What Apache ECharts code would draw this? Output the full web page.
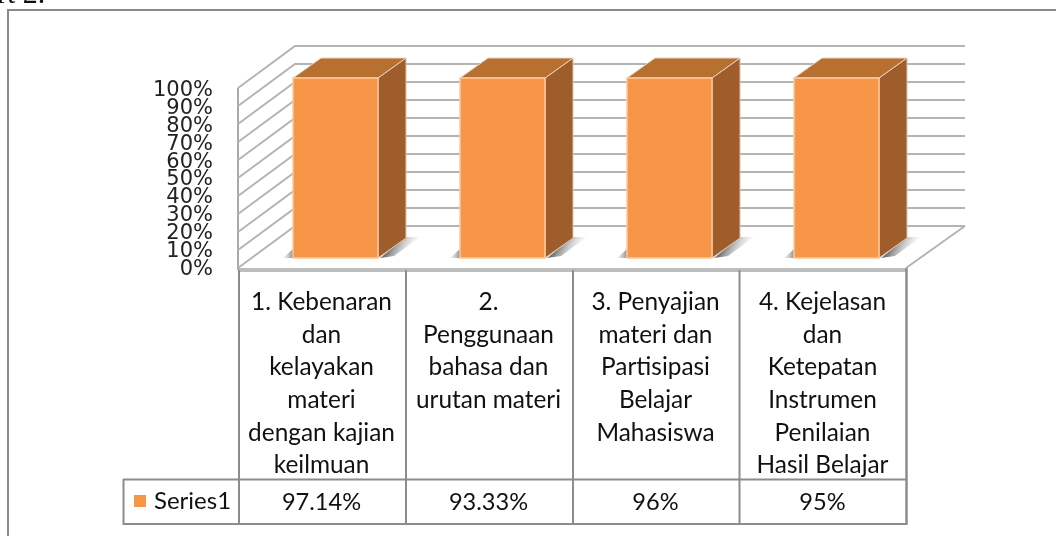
<!DOCTYPE html>
<html>
<head>
<meta charset="utf-8">
<style>
  html, body { margin: 0; padding: 0; background: #fff; }
  #chart { width: 1056px; height: 536px; }
</style>
</head>
<body>
<div id="chart"></div>
<script src="https://cdn.jsdelivr.net/npm/echarts@6/dist/echarts.min.js"></script>
<script>
  const categories = [
    '1. Kebenaran\ndan\nkelayakan\nmateri\ndengan kajian\nkeilmuan',
    '2.\nPenggunaan\nbahasa dan\nurutan materi',
    '3. Penyajian\nmateri dan\nPartisipasi\nBelajar\nMahasiswa',
    '4. Kejelasan\ndan\nKetepatan\nInstrumen\nPenilaian\nHasil Belajar'
  ]
  // one series on a 100% stacked axis, so every bar is drawn full height
  const barShare = [100, 100, 100, 100]
  const tableValues = ['97.14%', '93.33%', '96%', '95%']
  const yTicks = [0, 10, 20, 30, 40, 50, 60, 70, 80, 90, 100]

  const wallDx = 57
  const wallDy = -42
  const barDx = 28
  const barDy = -20
  const barInsetX = 14
  const barInsetY = -10
  const barWidth = 85
  const tickLabelGap = 25
  // the labels sit a touch closer together than the grid lines
  const tickLabelSquash = 0.01

  const gridLine = '#b4b4b4'
  const tableLine = '#8c8c8c'
  const labelFont = 'Lato'

  const renderWall = (params, api) => {
    const cs = params.coordSys
    const tick = api.value(1)
    const y = api.coord([0, tick])[1]
    const backX = cs.x + wallDx
    const backY = y + wallDy
    const children = [
      {
        type: 'polyline',
        shape: { points: [[cs.x, y], [backX, backY], [backX + cs.width + 2, backY]] },
        style: { fill: null, stroke: gridLine, lineWidth: 2 }
      },
      {
        type: 'text',
        x: cs.x - tickLabelGap,
        y: y + 1.5 + tick * tickLabelSquash,
        style: {
          text: tick + '%',
          align: 'right',
          verticalAlign: 'middle',
          fontFamily: 'DejaVu Sans',
          fontSize: 21,
          fill: '#222'
        }
      }
    ]
    if (tick === 0) {
      children.push({
        type: 'line',
        shape: { x1: cs.x + cs.width, y1: y, x2: cs.x + cs.width + wallDx + 2, y2: backY },
        style: { stroke: gridLine, lineWidth: 2 }
      })
      children.push({
        type: 'line',
        shape: { x1: cs.x, y1: cs.y, x2: cs.x, y2: y + 2 },
        style: { stroke: '#aaaaaa', lineWidth: 2 }
      })
    }
    return { type: 'group', children }
  }

  const renderBar = (params, api) => {
    const center = api.coord([api.value(0), 0])
    const top = api.coord([api.value(0), api.value(1)])
    const x0 = center[0] + barInsetX - barWidth / 2
    const x1 = x0 + barWidth
    const yb = center[1] + barInsetY
    const yt = top[1] + barInsetY
    const color = api.visual('color')
    return {
      type: 'group',
      children: [
        {
          type: 'polygon',
          shape: { points: [[x0 - 10, yb], [x0, yb], [x0, yb - 9]] },
          style: {
            fill: {
              type: 'linear',
              x: 0, y: 0, x2: 1, y2: 0,
              colorStops: [
                { offset: 0, color: 'rgba(190,190,190,0.2)' },
                { offset: 1, color: 'rgba(130,130,130,0.9)' }
              ]
            }
          }
        },
        {
          type: 'polygon',
          shape: {
            points: [
              [x1 + 2, yb],
              [x1 + barDx, yb + barDy - 1],
              [x1 + barDx + 14, yb + barDy - 1],
              [x1 + 16, yb - 2]
            ]
          },
          style: {
            fill: {
              type: 'linear',
              x: 0, y: 0, x2: 1, y2: 1,
              colorStops: [
                { offset: 0.3, color: 'rgba(110,110,110,0.95)' },
                { offset: 0.75, color: 'rgba(200,200,200,0.15)' },
                { offset: 1, color: 'rgba(255,255,255,0)' }
              ]
            }
          }
        },
        {
          type: 'polygon',
          shape: { points: [[x1, yb], [x1 + barDx, yb + barDy], [x1 + barDx, yt + barDy], [x1, yt]] },
          style: { fill: '#9e5d2b', stroke: '#d9c4b0', lineWidth: 1 }
        },
        {
          type: 'polygon',
          shape: { points: [[x0, yt], [x1, yt], [x1 + barDx, yt + barDy], [x0 + barDx, yt + barDy]] },
          style: { fill: '#b87031', stroke: '#e8d5c4', lineWidth: 1 }
        },
        {
          type: 'rect',
          shape: { x: x0, y: yt, width: barWidth, height: yb - yt },
          style: { fill: color, stroke: '#fbc9a0', lineWidth: 1.5 }
        }
      ]
    }
  }

  const hLine = (x1, x2, y, color, width) => ({
    type: 'line',
    shape: { x1, y1: y, x2, y2: y },
    style: { stroke: color, lineWidth: width }
  })
  const vLine = (x, y1, y2, color, width) => ({
    type: 'line',
    shape: { x1: x, y1, x2: x, y2 },
    style: { stroke: color, lineWidth: width }
  })

  const chart = echarts.init(document.getElementById('chart'))

  chart.setOption({
    animation: false,
    backgroundColor: '#ffffff',
    grid: { left: 238, top: 88, width: 668, height: 180 },
    legend: {
      data: ['Series1'],
      left: 134,
      top: 489,
      icon: 'rect',
      itemWidth: 12,
      itemHeight: 12,
      itemGap: 0,
      padding: 0,
      textStyle: { fontFamily: labelFont, fontSize: 24, color: '#111', padding: [0, 0, 0, 3] }
    },
    xAxis: [
      {
        type: 'category',
        data: categories,
        axisLine: { show: false },
        axisTick: { show: false },
        axisLabel: {
          interval: 0,
          margin: 18,
          hideOverlap: false,
          align: 'center',
          fontFamily: labelFont,
          fontSize: 24.4,
          lineHeight: 32.6,
          color: '#111'
        }
      },
      {
        type: 'category',
        position: 'bottom',
        offset: 214,
        data: tableValues,
        axisLine: { show: false },
        axisTick: { show: false },
        axisLabel: {
          interval: 0,
          fontFamily: labelFont,
          fontSize: 23.6,
          color: '#111'
        }
      }
    ],
    yAxis: {
      type: 'value',
      min: 0,
      max: 100,
      interval: 10,
      axisLine: { show: false },
      axisTick: { show: false },
      splitLine: { show: false },
      axisLabel: { show: false }
    },
    series: [
      {
        type: 'custom',
        name: 'walls',
        data: yTicks.map((t) => [0, t]),
        renderItem: renderWall,
        z: 1,
        silent: true
      },
      {
        type: 'custom',
        name: 'Series1',
        data: barShare.map((v, i) => [i, v]),
        renderItem: renderBar,
        itemStyle: { color: '#f79646' },
        z: 3
      }
    ],
    graphic: {
      elements: [
        {
          type: 'polyline',
          shape: { points: [[8, 536], [8, 10], [1056, 10]] },
          style: { fill: null, stroke: '#8a8a8a', lineWidth: 2 }
        },
        {
          type: 'text',
          x: -3,
          y: -20,
          style: { text: 'rt 2.', fontFamily: 'Liberation Serif', fontSize: 30, fill: '#111' }
        },
        {
          type: 'group',
          children: [
            hLine(238, 907, 270, '#bdbdbd', 4),
            vLine(239, 270, 525, tableLine, 2),
            vLine(406, 270, 525, tableLine, 2),
            vLine(573, 270, 525, tableLine, 2),
            vLine(739.5, 270, 525, tableLine, 2),
            vLine(906.5, 268, 525, tableLine, 2.5),
            hLine(123, 907, 479.5, tableLine, 2),
            hLine(123, 907, 524, tableLine, 2),
            vLine(123.5, 479, 525, tableLine, 2)
          ]
        }
      ]
    }
  })

  window.addEventListener('resize', () => chart.resize())
</script>
</body>
</html>
